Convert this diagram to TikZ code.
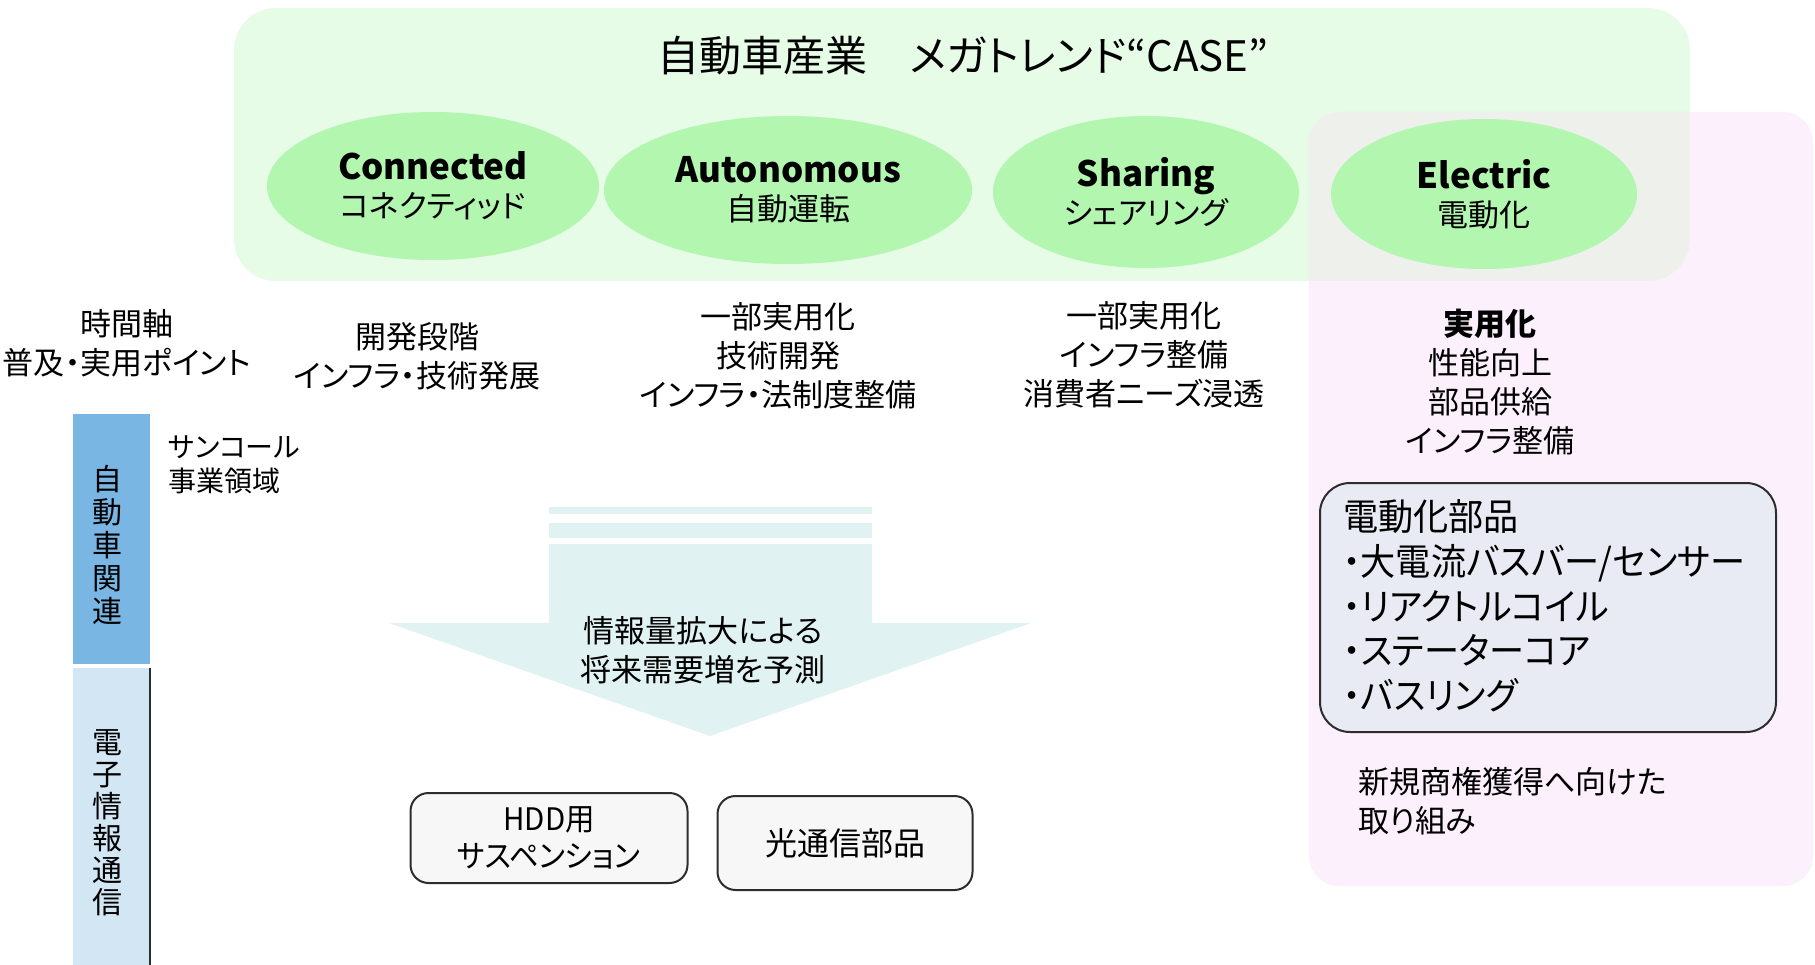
\documentclass[tikz,border=0pt]{standalone}
\usepackage{fontspec}
\setmainfont{Noto Sans CJK JP}[RawFeature={+palt}]
\newfontfamily\jpnarrow{Noto Sans CJK JP}[RawFeature={+palt}, FakeStretch=0.95]
\usetikzlibrary{shapes.geometric}
\definecolor{bggreen}{RGB}{230,252,230}
\definecolor{ellgreen}{RGB}{178,246,176}
\definecolor{bgpink}{RGB}{252,240,252}
\definecolor{overlapc}{RGB}{238,240,235}
\definecolor{barblue}{RGB}{122,182,228}
\definecolor{barlight}{RGB}{210,230,244}
\definecolor{arrowc}{RGB}{225,242,242}
\definecolor{boxgray}{RGB}{247,247,247}
\definecolor{boxlav}{RGB}{232,234,244}
\definecolor{edgec}{RGB}{45,45,45}
\newcommand\fsz[2]{\fontsize{#1}{#2}\selectfont}
\begin{document}
\begin{tikzpicture}[x=1pt,y=-1pt,
  caseell/.style={ellipse, fill=ellgreen, inner sep=0pt, align=center, font=\fsz{31}{38}},
  txt/.style={align=center, inner sep=0pt, font=\fsz{31}{38.8}},
  partbox/.style={draw=edgec, line width=2pt, rounded corners=18pt, fill=boxgray, align=center, inner sep=0pt},
  barseg/.style={anchor=north west, inner sep=0pt, minimum width=77pt},
  vtext/.style={align=center, inner sep=0pt},
  lefttext/.style={align=left, anchor=west, inner sep=0pt},
  arrowpart/.style={fill=arrowc}
]
\useasboundingbox (0,0) rectangle (1815,965);
\fill[white] (0,0) rectangle (1815,965);

% backgrounds
\fill[bggreen, rounded corners=42pt] (234,8) rectangle (1690,281);
\fill[bgpink, rounded corners=30pt] (1309,112) rectangle (1813,886);
\begin{scope}
  \clip[rounded corners=42pt] (234,8) rectangle (1690,281);
  \fill[overlapc, rounded corners=30pt] (1309,112) rectangle (1813,886);
\end{scope}

% title
\node[font=\fsz{42}{50}, inner sep=0pt] (title) at (963,56) {自動車産業　メガトレンド“CASE”};

% CASE ellipses
\node[caseell, minimum width=332pt, minimum height=148pt] (conn) at (433,186)
  {{\bfseries\fsz{35}{38}Connected}\\コネクティッド};
\node[caseell, minimum width=368pt, minimum height=148pt] (auto) at (788,190)
  {{\bfseries\fsz{35}{38}Autonomous}\\自動運転};
\node[caseell, minimum width=306pt, minimum height=152pt] (share) at (1146,192)
  {{\bfseries\fsz{35}{38}Sharing}\\シェアリング};
\node[caseell, minimum width=306pt, minimum height=150pt] (elec) at (1484,194)
  {{\bfseries\fsz{35}{38}Electric}\\電動化};

% time axis texts
\node[txt] (axis) at (127,343) {時間軸\\普及・実用ポイント};
\node[txt] (phC) at (417,356) {開発段階\\インフラ・技術発展};
\node[txt] (phA) at (778,356) {一部実用化\\技術開発\\インフラ・法制度整備};
\node[txt] (phS) at (1144,355) {一部実用化\\インフラ整備\\消費者ニーズ浸透};
\node[txt] (phE) at (1490,382) {\textbf{実用化}\\性能向上\\部品供給\\インフラ整備};

% left bar
\node[barseg, fill=barblue, minimum height=250pt] (barA) at (73,414) {};
\node[barseg, fill=barlight, minimum height=297pt] (barB) at (73,668) {};
\draw[edgec, line width=2pt] (barB.north east) -- (barB.south east);
\node[vtext, font=\fsz{30}{33}] (vtA) at (107,545) {自\\動\\車\\関\\連};
\node[vtext, font=\fsz{30}{32}] (vtB) at (107,823) {電\\子\\情\\報\\通\\信};
\node[lefttext, font=\fsz{28}{34}] (biz) at (168,465) {サンコール\\事業領域};

% big arrow
\fill[arrowpart] (549,507) rectangle (872,514);
\fill[arrowpart] (549,523) rectangle (872,538);
\fill[arrowpart] (549,544) -- (872,544) -- (872,623) -- (1031,623) -- (710,736) -- (389,623) -- (549,623) -- cycle;
\node[txt] (arrtxt) at (703,650) {情報量拡大による\\将来需要増を予測};

% parts boxes
\node[partbox, minimum width=277pt, minimum height=90pt, font=\jpnarrow\fsz{31}{37}] (hdd) at (549,838) {HDD用\\サスペンション};
\node[partbox, minimum width=255pt, minimum height=94pt, font=\fsz{32}{38}] (opt) at (845,843) {光通信部品};

% electrification box
\node[draw=edgec, line width=2pt, rounded corners=30pt, fill=boxlav, minimum width=456pt, minimum height=249pt, inner sep=0pt] (ebox) at (1548,607.5) {};
\node[lefttext, font=\jpnarrow\fsz{37}{44.7}] (elist) at (1343,606)
  {電動化部品\\・大電流バスバー/センサー\\・リアクトルコイル\\・ステーターコア\\・バスリング};
\node[lefttext, font=\fsz{31}{39}] (newbiz) at (1358,801) {新規商権獲得へ向けた\\取り組み};
\end{tikzpicture}
\end{document}
